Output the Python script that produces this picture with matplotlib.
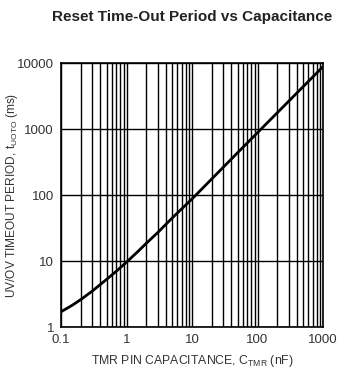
import matplotlib
matplotlib.use("Agg")
import matplotlib.pyplot as plt
from matplotlib.ticker import FixedLocator, NullFormatter

# timeout period vs TMR capacitance
cap_nf = [0.1, 0.15, 0.2, 0.3, 0.5, 0.7, 1, 1.5, 2, 3, 5, 7, 10, 20, 50, 100, 200, 500, 1000]
timeout_ms = [1.7, 2.15, 2.6, 3.5, 5.3, 7.0, 9.6, 14, 18.5, 27, 45, 62, 87, 175, 440, 880, 1760, 4400, 8800]

x_ticks = [0.1, 1, 10, 100, 1000]
x_tick_labels = ["0.1", "1", "10", "100", "1000"]
y_ticks = [1, 10, 100, 1000, 10000]
y_tick_labels = ["1", "10", "100", "1000", "10000"]

plt.rcParams["font.family"] = ["Liberation Sans", "DejaVu Sans"]

fig = plt.figure(figsize=(3.48, 3.73), dpi=100)
ax = fig.add_axes([61 / 348, 46 / 373, 262 / 348, 264 / 373])

ax.plot(cap_nf, timeout_ms, color="black", lw=2.0, solid_capstyle="round")

ax.set_xscale("log")
ax.set_yscale("log")
ax.set_xlim(0.1, 1000)
ax.set_ylim(1, 10000)

ax.set_xticks(x_ticks)
ax.set_xticklabels(x_tick_labels)
ax.set_yticks(y_ticks)
ax.set_yticklabels(y_tick_labels)
minor_x = [m * d for d in [0.1, 1, 10, 100] for m in range(2, 10)]
ax.xaxis.set_minor_locator(FixedLocator(minor_x))
ax.xaxis.set_minor_formatter(NullFormatter())
ax.yaxis.set_minor_locator(FixedLocator([]))

ax.grid(True, which="major", color="black", lw=1.0)
ax.grid(True, which="minor", axis="x", color="black", lw=1.0)
ax.tick_params(which="both", length=0, labelsize=9.5, labelcolor="#333333", pad=5)
for s in ax.spines.values():
    s.set_linewidth(1.2)

ax.set_xlabel(r"TMR PIN CAPACITANCE, C$_{\mathregular{TMR}}$ (nF)", fontsize=8.8,
              color="#333333", labelpad=5)
ax.set_ylabel(r"UV/OV TIMEOUT PERIOD, t$_{\mathregular{UOTO}}$ (ms)", fontsize=8.6,
              color="#333333")
ax.yaxis.set_label_coords(-0.155, 0.5)

fig.text(0.553, 0.954, "Reset Time-Out Period vs Capacitance", ha="center", va="center",
         fontsize=11, fontweight="bold", color="#222222")

fig.savefig("out.png", dpi=100)
